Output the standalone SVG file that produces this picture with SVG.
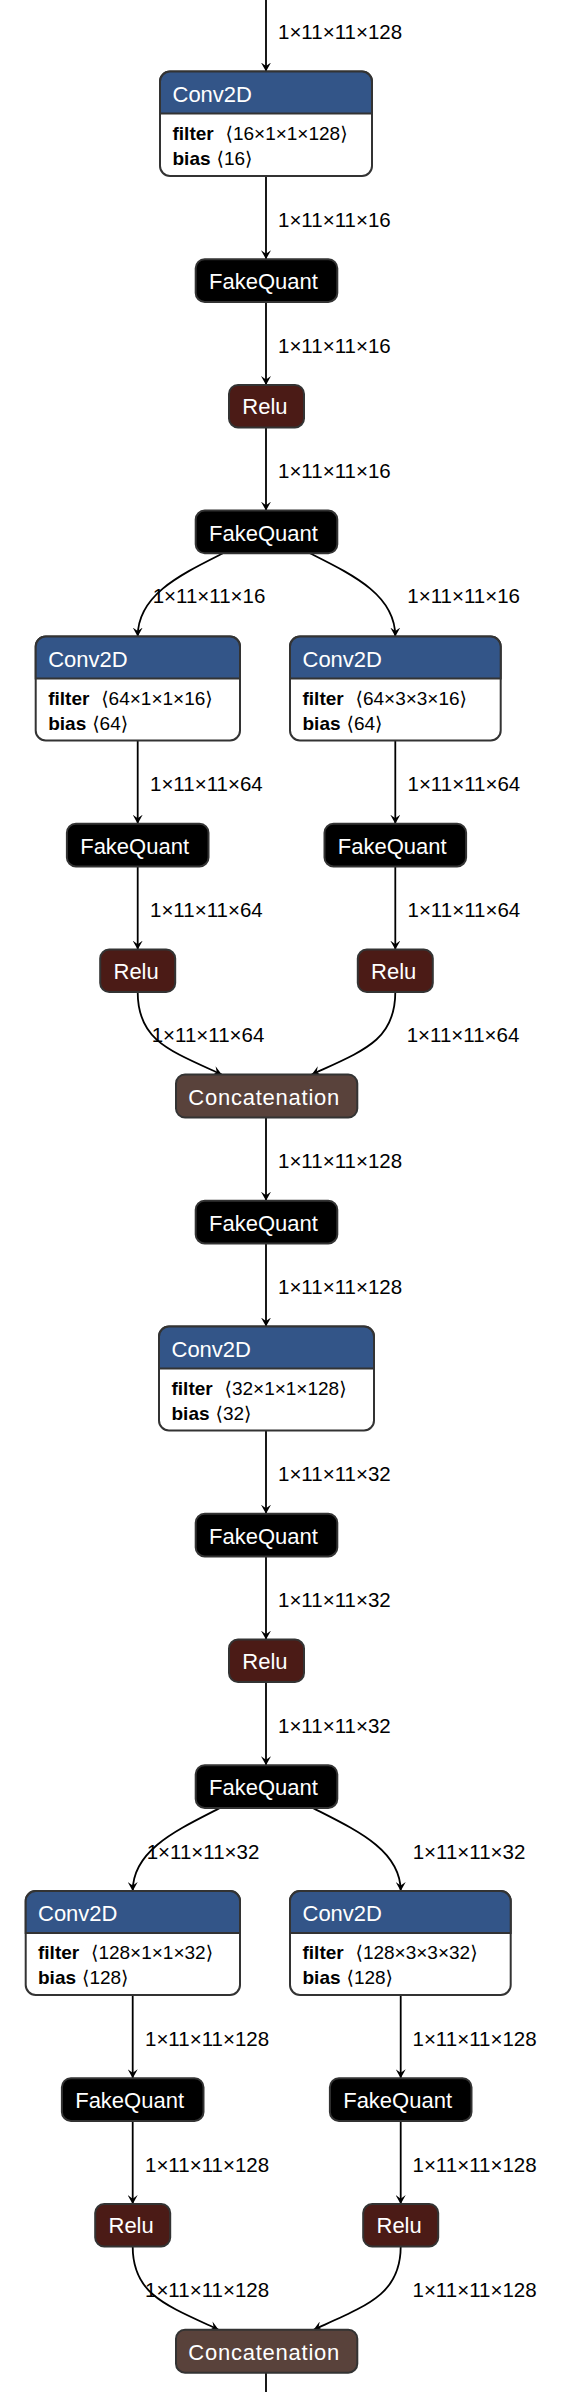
<svg xmlns="http://www.w3.org/2000/svg" width="562" height="2392" viewBox="0 0 562 2392">
<defs>
<style>
.edge{fill:none;stroke:#000;stroke-width:1.8;marker-end:url(#arrow)}
.plain{fill:none;stroke:#000;stroke-width:1.8}
.lbl{font-family:"Liberation Sans","DejaVu Sans",sans-serif;font-size:20.5px;fill:#000}
.nt{font-family:"Liberation Sans","DejaVu Sans",sans-serif;font-size:22px;fill:#fff}
.at{font-family:"Liberation Sans","DejaVu Sans",sans-serif;font-size:19px;fill:#000}
.b{font-weight:bold}
.box{stroke:#333;stroke-width:2}
.fq{fill:#000}
.relu{fill:#4b1b16}
.cat{fill:#59423b}
.hdr{fill:#335588;stroke:#333;stroke-width:2}
.body{fill:#fff}
</style>
<marker id="arrow" viewBox="0 0 10 10" refX="10" refY="5" markerUnits="userSpaceOnUse" markerWidth="9" markerHeight="10" orient="auto" preserveAspectRatio="none">
<path d="M0,0 L10,5 L0,10 L4,5 z" fill="#000"/>
</marker>
</defs>
<rect width="562" height="2392" fill="#fff"/>

<g id="edges">
<path class="edge" d="M266,0 V71.5"/>
<path class="edge" d="M266,176 V259.2"/>
<path class="edge" d="M266,301.9 V385"/>
<path class="edge" d="M266,427.4 V510.6"/>
<path class="edge" d="M223,553.3 C180,575 137.7,595 137.7,636.5"/>
<path class="edge" d="M310,553.3 C353,575 395.3,595 395.3,636.5"/>
<path class="edge" d="M137.7,740.5 V823.7"/>
<path class="edge" d="M395.3,740.5 V823.7"/>
<path class="edge" d="M137.7,866.4 V949.6"/>
<path class="edge" d="M395.3,866.4 V949.6"/>
<path class="edge" d="M137.7,992 C137.7,1040 168,1050 221.7,1074.5"/>
<path class="edge" d="M395.3,992 C395.3,1040 365,1050 311.7,1074.5"/>
<path class="edge" d="M266,1117.5 V1200.7"/>
<path class="edge" d="M266,1243.4 V1326.5"/>
<path class="edge" d="M266,1430.5 V1513.7"/>
<path class="edge" d="M266,1556.4 V1639.6"/>
<path class="edge" d="M266,1682 V1765.2"/>
<path class="edge" d="M220,1807.9 C177,1830 132.7,1850 132.7,1891"/>
<path class="edge" d="M312.7,1807.9 C356,1830 400.7,1850 400.7,1891"/>
<path class="edge" d="M132.7,1995 V2078.2"/>
<path class="edge" d="M400.7,1995 V2078.2"/>
<path class="edge" d="M132.7,2120.9 V2204.1"/>
<path class="edge" d="M400.7,2120.9 V2204.1"/>
<path class="edge" d="M132.7,2246.5 C132.7,2294 165,2305 218.6,2329.7"/>
<path class="edge" d="M400.7,2246.5 C400.7,2294 368,2305 313.6,2329.7"/>
<path class="plain" d="M266,2372.7 V2392"/>
</g>

<g id="edge-labels">
<text class="lbl" x="278" y="39">1×11×11×128</text>
<text class="lbl" x="278" y="226.6">1×11×11×16</text>
<text class="lbl" x="278" y="352.5">1×11×11×16</text>
<text class="lbl" x="278" y="478">1×11×11×16</text>
<text class="lbl" x="152.7" y="603">1×11×11×16</text>
<text class="lbl" x="407.3" y="603">1×11×11×16</text>
<text class="lbl" x="150" y="791">1×11×11×64</text>
<text class="lbl" x="407.5" y="791">1×11×11×64</text>
<text class="lbl" x="150" y="917">1×11×11×64</text>
<text class="lbl" x="407.5" y="917">1×11×11×64</text>
<text class="lbl" x="151.7" y="1042">1×11×11×64</text>
<text class="lbl" x="406.7" y="1042">1×11×11×64</text>
<text class="lbl" x="278" y="1168">1×11×11×128</text>
<text class="lbl" x="278" y="1294">1×11×11×128</text>
<text class="lbl" x="278" y="1481">1×11×11×32</text>
<text class="lbl" x="278" y="1607">1×11×11×32</text>
<text class="lbl" x="278" y="1733">1×11×11×32</text>
<text class="lbl" x="146.7" y="1858.5">1×11×11×32</text>
<text class="lbl" x="412.7" y="1858.5">1×11×11×32</text>
<text class="lbl" x="145" y="2045.6">1×11×11×128</text>
<text class="lbl" x="412.5" y="2045.6">1×11×11×128</text>
<text class="lbl" x="145" y="2171.5">1×11×11×128</text>
<text class="lbl" x="412.5" y="2171.5">1×11×11×128</text>
<text class="lbl" x="145" y="2297">1×11×11×128</text>
<text class="lbl" x="412.5" y="2297">1×11×11×128</text>
</g>

<g id="conv2d-1">
<rect class="box body" x="160" y="71.5" width="212" height="104.5" rx="10"/>
<path class="hdr" d="M160,113.5 V81.5 A10,10 0 0 1 170,71.5 H362 A10,10 0 0 1 372,81.5 V113.5 Z"/>
<text class="nt" x="172.5" y="101.8">Conv2D</text>
<text class="at" y="139.8"><tspan class="b" x="172.5">filter</tspan><tspan x="225.5">⟨16×1×1×128⟩</tspan></text>
<text class="at" y="164.5"><tspan class="b" x="172.5">bias</tspan><tspan x="216.5">⟨16⟩</tspan></text>
</g>

<g id="fakequant-1">
<rect class="box fq" x="195.7" y="259.2" width="141.6" height="42.7" rx="9"/>
<text class="nt" x="209" y="289.2">FakeQuant</text>
</g>

<g id="relu-1">
<rect class="box relu" x="229" y="385" width="75" height="42.4" rx="9"/>
<text class="nt" x="242.3" y="414.3">Relu</text>
</g>

<g id="fakequant-2">
<rect class="box fq" x="195.7" y="510.6" width="141.6" height="42.7" rx="9"/>
<text class="nt" x="209" y="540.6">FakeQuant</text>
</g>

<g id="conv2d-2">
<rect class="box body" x="35.7" y="636.5" width="204.3" height="104" rx="10"/>
<path class="hdr" d="M35.7,678.5 V646.5 A10,10 0 0 1 45.7,636.5 H230 A10,10 0 0 1 240,646.5 V678.5 Z"/>
<text class="nt" x="48.2" y="666.8">Conv2D</text>
<text class="at" y="704.8"><tspan class="b" x="48.2">filter</tspan><tspan x="101.2">⟨64×1×1×16⟩</tspan></text>
<text class="at" y="729.5"><tspan class="b" x="48.2">bias</tspan><tspan x="92.2">⟨64⟩</tspan></text>
</g>

<g id="conv2d-3">
<rect class="box body" x="290" y="636.5" width="210.7" height="104" rx="10"/>
<path class="hdr" d="M290,678.5 V646.5 A10,10 0 0 1 300,636.5 H490.7 A10,10 0 0 1 500.7,646.5 V678.5 Z"/>
<text class="nt" x="302.5" y="666.8">Conv2D</text>
<text class="at" y="704.8"><tspan class="b" x="302.5">filter</tspan><tspan x="355.5">⟨64×3×3×16⟩</tspan></text>
<text class="at" y="729.5"><tspan class="b" x="302.5">bias</tspan><tspan x="346.5">⟨64⟩</tspan></text>
</g>

<g id="fakequant-3">
<rect class="box fq" x="66.9" y="823.7" width="141.6" height="42.7" rx="9"/>
<text class="nt" x="80.2" y="853.7">FakeQuant</text>
</g>

<g id="fakequant-4">
<rect class="box fq" x="324.5" y="823.7" width="141.6" height="42.7" rx="9"/>
<text class="nt" x="337.8" y="853.7">FakeQuant</text>
</g>

<g id="relu-2">
<rect class="box relu" x="100.2" y="949.6" width="75" height="42.4" rx="9"/>
<text class="nt" x="113.5" y="978.9">Relu</text>
</g>

<g id="relu-3">
<rect class="box relu" x="357.8" y="949.6" width="75" height="42.4" rx="9"/>
<text class="nt" x="371.1" y="978.9">Relu</text>
</g>

<g id="concatenation-1">
<rect class="box cat" x="176" y="1074.5" width="181.3" height="43" rx="9"/>
<text class="nt" x="188.3" y="1104.5" textLength="151" lengthAdjust="spacing">Concatenation</text>
</g>

<g id="fakequant-5">
<rect class="box fq" x="195.7" y="1200.7" width="141.6" height="42.7" rx="9"/>
<text class="nt" x="209" y="1230.7">FakeQuant</text>
</g>

<g id="conv2d-4">
<rect class="box body" x="159" y="1326.5" width="215" height="104" rx="10"/>
<path class="hdr" d="M159,1368.5 V1336.5 A10,10 0 0 1 169,1326.5 H364 A10,10 0 0 1 374,1336.5 V1368.5 Z"/>
<text class="nt" x="171.5" y="1356.8">Conv2D</text>
<text class="at" y="1394.8"><tspan class="b" x="171.5">filter</tspan><tspan x="224.5">⟨32×1×1×128⟩</tspan></text>
<text class="at" y="1419.5"><tspan class="b" x="171.5">bias</tspan><tspan x="215.5">⟨32⟩</tspan></text>
</g>

<g id="fakequant-6">
<rect class="box fq" x="195.7" y="1513.7" width="141.6" height="42.7" rx="9"/>
<text class="nt" x="209" y="1543.7">FakeQuant</text>
</g>

<g id="relu-4">
<rect class="box relu" x="229" y="1639.6" width="75" height="42.4" rx="9"/>
<text class="nt" x="242.3" y="1668.9">Relu</text>
</g>

<g id="fakequant-7">
<rect class="box fq" x="195.7" y="1765.2" width="141.6" height="42.7" rx="9"/>
<text class="nt" x="209" y="1795.2">FakeQuant</text>
</g>

<g id="conv2d-5">
<rect class="box body" x="25.7" y="1891" width="214.3" height="104" rx="10"/>
<path class="hdr" d="M25.7,1933 V1901 A10,10 0 0 1 35.7,1891 H230 A10,10 0 0 1 240,1901 V1933 Z"/>
<text class="nt" x="38" y="1921.3">Conv2D</text>
<text class="at" y="1959.3"><tspan class="b" x="38">filter</tspan><tspan x="91">⟨128×1×1×32⟩</tspan></text>
<text class="at" y="1984"><tspan class="b" x="38">bias</tspan><tspan x="82">⟨128⟩</tspan></text>
</g>

<g id="conv2d-6">
<rect class="box body" x="290" y="1891" width="220.7" height="104" rx="10"/>
<path class="hdr" d="M290,1933 V1901 A10,10 0 0 1 300,1891 H500.7 A10,10 0 0 1 510.7,1901 V1933 Z"/>
<text class="nt" x="302.5" y="1921.3">Conv2D</text>
<text class="at" y="1959.3"><tspan class="b" x="302.5">filter</tspan><tspan x="355.5">⟨128×3×3×32⟩</tspan></text>
<text class="at" y="1984"><tspan class="b" x="302.5">bias</tspan><tspan x="346.5">⟨128⟩</tspan></text>
</g>

<g id="fakequant-8">
<rect class="box fq" x="61.9" y="2078.2" width="141.6" height="42.7" rx="9"/>
<text class="nt" x="75.2" y="2108.2">FakeQuant</text>
</g>

<g id="fakequant-9">
<rect class="box fq" x="329.9" y="2078.2" width="141.6" height="42.7" rx="9"/>
<text class="nt" x="343.2" y="2108.2">FakeQuant</text>
</g>

<g id="relu-5">
<rect class="box relu" x="95.2" y="2204.1" width="75" height="42.4" rx="9"/>
<text class="nt" x="108.5" y="2233.4">Relu</text>
</g>

<g id="relu-6">
<rect class="box relu" x="363.2" y="2204.1" width="75" height="42.4" rx="9"/>
<text class="nt" x="376.5" y="2233.4">Relu</text>
</g>

<g id="concatenation-2">
<rect class="box cat" x="176" y="2329.7" width="181.3" height="43" rx="9"/>
<text class="nt" x="188.3" y="2359.7" textLength="151" lengthAdjust="spacing">Concatenation</text>
</g>
</svg>
